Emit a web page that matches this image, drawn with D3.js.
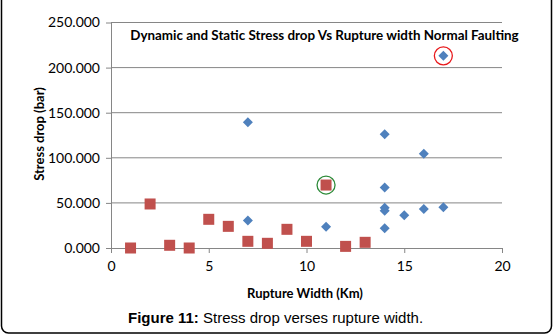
<!DOCTYPE html>
<html>
<head>
<meta charset="utf-8">
<script src="https://cdn.jsdelivr.net/npm/d3@7"></script>
<style>
  body { margin: 0; background: #fff; }
  text { font-family: Lato, "Open Sans", sans-serif; }
</style>
</head>
<body>
<div id="chart"></div>
<script>
// Dynamic stress drop (blue diamonds)
const dynWidth = [7, 17, 14, 7, 16, 14, 14, 14, 15, 16, 17, 14, 11];
const dynDrop  = [139.3, 213, 126, 30.5, 104.5, 67, 44.7, 41.4, 36.2, 43.2, 45.1, 21.8, 23.6];

// Static stress drop (red squares)
const staWidth = [1, 2, 3, 4, 5, 6, 7, 8, 9, 10, 11, 12, 13];
const staDrop  = [0, 48.8, 3, 0, 31.8, 24, 7.4, 5.2, 20.7, 7.4, 69.8, 1.8, 6.3];

const xTicks = [0, 5, 10, 15, 20];
const yTicks = [0, 50, 100, 150, 200, 250];

// highlighted points
const circled = [
  { x: 17, y: 213, color: "#e8191c" },
  { x: 11, y: 69.8, color: "#2e8b3a" }
];

const W = 553, H = 336;
const svg = d3.select("#chart").append("svg")
  .attr("width", W)
  .attr("height", H);

// frame
svg.append("rect")
  .attr("x", 1.5).attr("y", -10)
  .attr("width", 550).attr("height", 343)
  .attr("rx", 7)
  .attr("fill", "white")
  .attr("stroke", "#000")
  .attr("stroke-width", 1.5);

const x = d3.scaleLinear().domain([0, 20]).range([111, 502]);
const y = d3.scaleLinear().domain([0, 250]).range([248, 22.5]);

// gridlines
svg.append("g")
  .selectAll("line")
  .data(yTicks.filter(d => d > 0))
  .join("line")
  .attr("x1", x(0)).attr("x2", x(20))
  .attr("y1", d => y(d)).attr("y2", d => y(d))
  .attr("stroke", "#868686")
  .attr("stroke-width", 1);

// axes
const xAxis = svg.append("g")
  .attr("transform", `translate(0,${y(0)})`)
  .call(d3.axisBottom(x).tickValues(xTicks).tickSize(5).tickSizeOuter(0).tickPadding(5));
const yAxis = svg.append("g")
  .attr("transform", `translate(${x(0)},0)`)
  .call(d3.axisLeft(y).tickValues(yTicks).tickFormat(d3.format(".3f")).tickSize(5).tickSizeOuter(0).tickPadding(6));

[xAxis, yAxis].forEach(g => {
  g.selectAll("path, line").attr("stroke", "#868686");
  g.selectAll("text")
    .attr("fill", "#000")
    .style("font-size", "14px")
    .style("font-family", "Lato, sans-serif");
});
xAxis.selectAll("text").attr("dy", "0.9em");

// dynamic points
const dm = 5;
svg.append("g")
  .selectAll("path")
  .data(dynWidth.map((w, i) => [w, dynDrop[i]]))
  .join("path")
  .attr("d", `M0,${-dm}L${dm},0L0,${dm}L${-dm},0Z`)
  .attr("transform", d => `translate(${x(d[0])},${y(d[1])})`)
  .attr("fill", "#4f81bd");

// static points
const sq = 11;
svg.append("g")
  .selectAll("rect")
  .data(staWidth.map((w, i) => [w, staDrop[i]]))
  .join("rect")
  .attr("x", d => x(d[0]) - sq / 2)
  .attr("y", d => y(d[1]) - sq / 2)
  .attr("width", sq).attr("height", sq)
  .attr("fill", "#c0504d");

// circles around notable points
svg.append("g")
  .selectAll("circle")
  .data(circled)
  .join("circle")
  .attr("cx", d => x(d.x))
  .attr("cy", d => y(d.y))
  .attr("r", 9)
  .attr("fill", "none")
  .attr("stroke", d => d.color)
  .attr("stroke-width", 1.3);

// title
svg.append("text")
  .attr("x", 324.5).attr("y", 40)
  .attr("text-anchor", "middle")
  .style("font-size", "13.4px")
  .style("font-weight", "bold")
  .text("Dynamic and Static Stress drop Vs Rupture width Normal Faulting");

// axis titles
svg.append("text")
  .attr("x", 305).attr("y", 298)
  .attr("text-anchor", "middle")
  .style("font-size", "13px")
  .style("font-weight", "bold")
  .text("Rupture Width (Km)");

svg.append("text")
  .attr("transform", "translate(44,134) rotate(-90)")
  .attr("text-anchor", "middle")
  .style("font-size", "13px")
  .style("font-weight", "bold")
  .text("Stress drop (bar)");

// caption
const cap = svg.append("text")
  .attr("x", 128).attr("y", 323)
  .style("font-family", "'Liberation Sans', Arial, sans-serif")
  .style("font-size", "15px");
cap.append("tspan").style("font-weight", "bold").text("Figure 11:");
cap.append("tspan").text(" Stress drop verses rupture width.");
</script>
</body>
</html>
